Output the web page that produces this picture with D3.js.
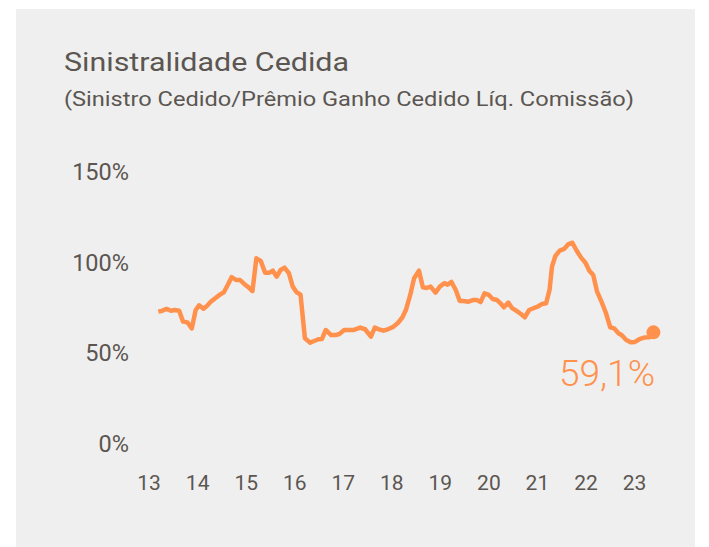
<!DOCTYPE html>
<html>
<head>
<meta charset="utf-8">
<script src="https://cdn.jsdelivr.net/npm/d3@7"></script>
<style>
  body { margin: 0; background: #fff; }
  svg { display: block; font-family: Roboto, "Noto Sans", sans-serif; }
</style>
</head>
<body>
<div id="chart"></div>
<script>
// fractional year (13 = 2013) and loss ratio in %
const years = [
  13.20, 13.27, 13.37, 13.46, 13.54, 13.63, 13.71, 13.80, 13.89, 13.97,
  14.04, 14.13, 14.20, 14.29, 14.38, 14.47, 14.55, 14.63, 14.71, 14.80,
  14.88, 14.97, 15.06, 15.14, 15.22, 15.31, 15.40, 15.49, 15.56, 15.64,
  15.72, 15.80, 15.89, 15.97, 16.05, 16.13, 16.22, 16.33, 16.41, 16.50,
  16.57, 16.65, 16.76, 16.85, 16.93, 17.03, 17.13, 17.23, 17.36, 17.46,
  17.58, 17.66, 17.73, 17.84, 17.94, 18.04, 18.14, 18.23, 18.30, 18.39,
  18.47, 18.57, 18.65, 18.73, 18.81, 18.91, 19.00, 19.09, 19.16, 19.24,
  19.33, 19.41, 19.48, 19.59, 19.68, 19.76, 19.84, 19.92, 20.01, 20.09,
  20.18, 20.25, 20.32, 20.41, 20.49, 20.58, 20.67, 20.75, 20.84, 20.93,
  21.01, 21.10, 21.19, 21.26, 21.31, 21.38, 21.47, 21.56, 21.65, 21.73,
  21.82, 21.91, 22.00, 22.08, 22.16, 22.24, 22.33, 22.42, 22.51, 22.59,
  22.68, 22.75, 22.84, 22.93, 23.02, 23.11, 23.21, 23.32, 23.40
];
const ratio = [
  70.5, 70.9, 72.0, 71.0, 71.4, 71.0, 65.0, 64.6, 61.3, 71.4,
  74.0, 72.1, 73.6, 76.2, 78.0, 79.9, 81.2, 85.2, 89.5, 88.0,
  88.0, 85.8, 83.9, 81.9, 99.9, 98.5, 92.0, 92.0, 93.1, 89.8,
  93.5, 94.8, 91.7, 84.3, 81.2, 79.9, 55.8, 53.4, 54.3, 55.3,
  55.4, 60.4, 57.6, 57.6, 58.2, 60.4, 60.4, 60.4, 61.7, 60.8,
  56.7, 61.7, 60.9, 60.0, 60.9, 62.1, 64.4, 67.4, 71.4, 79.7,
  88.9, 93.1, 83.9, 83.6, 84.3, 81.0, 84.3, 86.2, 85.4, 86.9,
  82.3, 76.4, 76.4, 76.0, 76.9, 76.9, 75.8, 80.6, 79.7, 77.5,
  76.9, 75.1, 72.9, 75.5, 72.4, 70.9, 69.2, 67.4, 71.4, 72.4,
  73.2, 74.7, 75.1, 82.5, 95.3, 101.2, 104.2, 105.1, 107.8, 108.5,
  104.1, 100.3, 97.5, 93.1, 90.7, 81.5, 76.0, 69.9, 61.9, 61.3,
  58.6, 57.5, 54.9, 53.6, 53.8, 55.3, 56.2, 56.4, 59.1
];
const yearTicks = [13, 14, 15, 16, 17, 18, 19, 20, 21, 22, 23];
const pctTicks = [0, 50, 100, 150];
const title = 'Sinistralidade Cedida';
const subtitle = '(Sinistro Cedido/Prêmio Ganho Cedido Líq. Comissão)';
const lastLabel = '59,1%';

const width = 709, height = 547;
const orange = '#ff914d';
const grey = '#5b5651';

const svg = d3.select('#chart').append('svg')
    .attr('width', width)
    .attr('height', height);

// panel background
svg.append('rect')
    .attr('x', 16)
    .attr('y', 9)
    .attr('width', 679)
    .attr('height', height - 9)
    .style('fill', '#efefef');

svg.append('text')
    .attr('x', 64)
    .attr('y', 71)
    .attr('textLength', 285)
    .attr('lengthAdjust', 'spacingAndGlyphs')
    .style('font-size', '25px')
    .style('fill', grey)
    .text(title);

svg.append('text')
    .attr('x', 64)
    .attr('y', 106)
    .attr('textLength', 570)
    .attr('lengthAdjust', 'spacingAndGlyphs')
    .style('font-size', '20.5px')
    .style('fill', grey)
    .text(subtitle);

const x = d3.scaleLinear().domain([13, 23]).range([148.6, 634]);
const y = d3.scaleLinear().domain([0, 150]).range([439.5, 167.5]);

// Left axis, labels only
const yAxis = svg.append('g')
    .attr('transform', 'translate(129, 0)')
    .call(d3.axisLeft(y).tickValues(pctTicks).tickSize(0).tickPadding(0).tickFormat(d => d + '%'));
yAxis.select('.domain').remove();
yAxis.selectAll('text')
    .attr('dy', '0.38em')
    .attr('y', 3)
    .style('font-family', 'Roboto, sans-serif')
    .style('font-size', '23.5px')
    .style('fill', grey);

// Bottom axis, labels only
const xAxis = svg.append('g')
    .attr('transform', 'translate(0, 475)')
    .call(d3.axisBottom(x).tickValues(yearTicks).tickSize(0).tickPadding(0).tickFormat(d => d));
xAxis.select('.domain').remove();
xAxis.selectAll('text')
    .attr('dy', '0.71em')
    .style('font-family', 'Roboto, sans-serif')
    .style('font-size', '21px')
    .style('fill', grey);

const points = years.map((t, i) => [t, ratio[i]]);

svg.append('path')
    .attr('d', d3.line().x(d => x(d[0])).y(d => y(d[1]))(points))
    .style('fill', 'none')
    .style('stroke', orange)
    .style('stroke-width', 4.5)
    .style('stroke-linejoin', 'round')
    .style('stroke-linecap', 'butt');

const last = points[points.length - 1];
svg.append('circle')
    .attr('cx', x(last[0]))
    .attr('cy', y(last[1]))
    .attr('r', 7)
    .style('fill', orange);

svg.append('text')
    .attr('x', 655)
    .attr('y', 386)
    .attr('text-anchor', 'end')
    .style('font-size', '37px')
    .style('font-weight', 300)
    .style('fill', orange)
    .text(lastLabel);
</script>
</body>
</html>
